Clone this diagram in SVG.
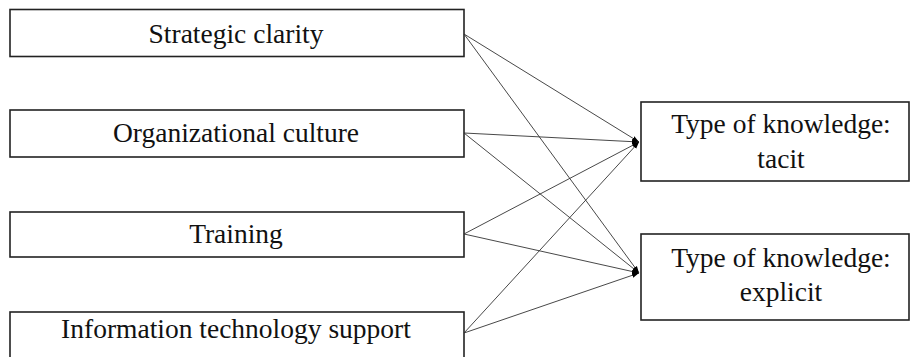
<svg xmlns="http://www.w3.org/2000/svg" width="912" height="357" viewBox="0 0 912 357">
<style>
.box{fill:#ffffff;stroke:#222;stroke-width:1.6}
.t{font-family:'Liberation Serif','DejaVu Serif',serif;font-size:27.5px;fill:#111;text-anchor:middle}
.c{stroke:#333;stroke-width:0.9;fill:none}
</style>
<defs>
<marker id="ah" markerWidth="8" markerHeight="8" refX="7" refY="4" orient="auto" markerUnits="userSpaceOnUse">
<path d="M0,1.5 L7,4 L0,6.5 Z" fill="#000"/>
</marker>
</defs>
<rect width="912" height="357" fill="#fff"/>
<g id="n1"><rect class="box" x="10" y="9.5" width="454" height="47"/><text class="t" x="236" y="43">Strategic clarity</text></g>
<g id="n2"><rect class="box" x="10" y="110" width="454" height="47"/><text class="t" x="236" y="142">Organizational culture</text></g>
<g id="n3"><rect class="box" x="10" y="212" width="454" height="45"/><text class="t" x="236" y="243">Training</text></g>
<g id="n4"><rect class="box" x="10" y="312" width="454" height="50"/><text class="t" x="236" y="338">Information technology support</text></g>
<g id="n5"><rect class="box" x="641" y="102" width="268" height="79"/><text class="t" x="781" y="133">Type of knowledge:</text><text class="t" x="781" y="168">tacit</text></g>
<g id="n6"><rect class="box" x="641" y="234" width="268" height="86"/><text class="t" x="781" y="267">Type of knowledge:</text><text class="t" x="781" y="301">explicit</text></g>
<g id="connectors">
<line class="c" x1="464" y1="34" x2="639" y2="142" marker-end="url(#ah)"/>
<line class="c" x1="464" y1="34" x2="639" y2="273" marker-end="url(#ah)"/>
<line class="c" x1="464" y1="133" x2="639" y2="142" marker-end="url(#ah)"/>
<line class="c" x1="464" y1="133" x2="639" y2="273" marker-end="url(#ah)"/>
<line class="c" x1="464" y1="234" x2="639" y2="142" marker-end="url(#ah)"/>
<line class="c" x1="464" y1="234" x2="639" y2="273" marker-end="url(#ah)"/>
<line class="c" x1="464" y1="333" x2="639" y2="142" marker-end="url(#ah)"/>
<line class="c" x1="464" y1="333" x2="639" y2="273" marker-end="url(#ah)"/>
</g>
</svg>
